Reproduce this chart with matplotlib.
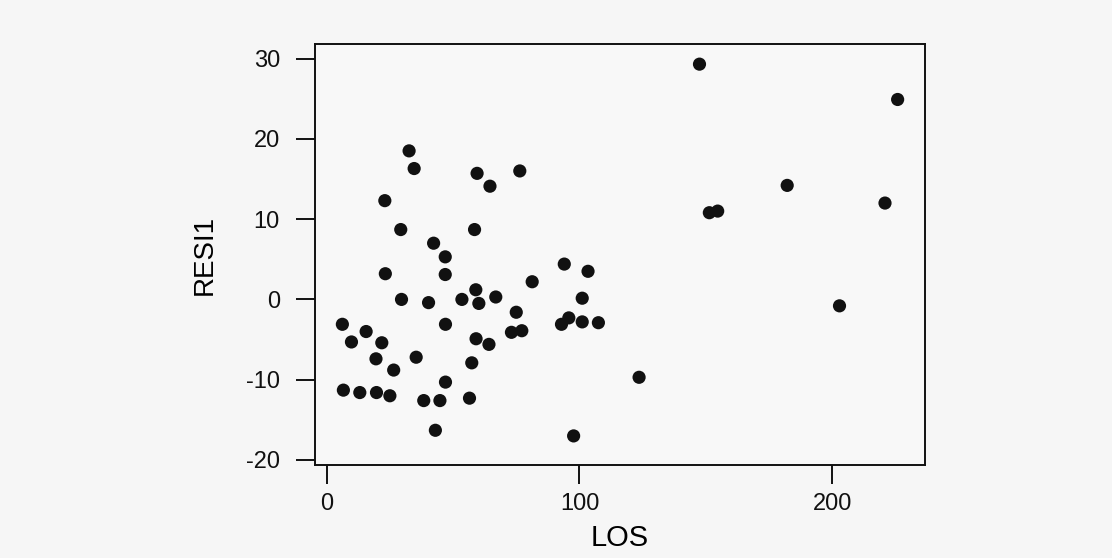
import matplotlib.pyplot as plt

# LOS (x) and RESI1 (y)
los = [32.6, 34.6, 59.5, 64.6, 76.4, 23.0, 29.3, 58.5, 42.3, 46.9,
       46.9, 23.2, 59.0, 29.6, 40.3, 53.5, 60.2, 66.9, 75.0, 73.1,
       77.2, 81.3, 6.2, 15.6, 9.8, 21.8, 47.0, 59.1, 64.2, 19.5,
       35.4, 26.5, 57.4, 47.0, 6.6, 13.1, 19.7, 25.0, 38.4, 44.8,
       56.5, 43.0, 94.0, 103.4, 101.1, 92.9, 95.8, 101.1, 107.5, 123.6,
       97.7, 147.5, 225.9, 182.2, 151.4, 154.7, 220.9, 202.9]
resi1 = [18.5, 16.3, 15.7, 14.1, 16.0, 12.3, 8.7, 8.7, 7.0, 5.3,
         3.1, 3.2, 1.2, 0.0, -0.4, 0.0, -0.5, 0.3, -1.6, -4.1,
         -3.9, 2.2, -3.1, -4.0, -5.3, -5.4, -3.1, -4.9, -5.6, -7.4,
         -7.2, -8.8, -7.9, -10.3, -11.3, -11.6, -11.6, -12.0, -12.6, -12.6,
         -12.3, -16.3, 4.4, 3.5, 0.15, -3.1, -2.3, -2.8, -2.9, -9.7,
         -17.0, 29.3, 24.9, 14.2, 10.8, 11.0, 12.0, -0.8]

x_ticks = [0, 100, 200]
y_ticks = [-20, -10, 0, 10, 20, 30]

plt.rcParams['font.family'] = ['Liberation Sans', 'DejaVu Sans']
plt.rcParams['axes.unicode_minus'] = False

fig = plt.figure(figsize=(11.12, 5.58), dpi=100)
fig.patch.set_facecolor('#f6f6f6')
ax = fig.add_axes([0.283, 0.167, 0.549, 0.754])
ax.set_facecolor('#f8f8f8')

ax.scatter(los, resi1, s=90, color='#111111', edgecolors='none', zorder=3)

ax.set_xlim(-4.75, 236.8)
ax.set_ylim(-20.6, 31.8)
ax.set_xticks(x_ticks)
ax.set_yticks(y_ticks)

for side in ['left', 'bottom', 'top', 'right']:
    ax.spines[side].set_linewidth(1.4)
    ax.spines[side].set_color('#111111')

ax.tick_params(axis='both', direction='out', length=14, width=1.4,
               labelsize=17, colors='#111111')
ax.tick_params(axis='y', pad=11)
ax.tick_params(axis='x', pad=6)

ax.set_xlabel('LOS', fontsize=21, labelpad=7)
ax.set_ylabel('RESI1', fontsize=20, labelpad=20)

fig.savefig('out.png', dpi=100, facecolor=fig.get_facecolor())
